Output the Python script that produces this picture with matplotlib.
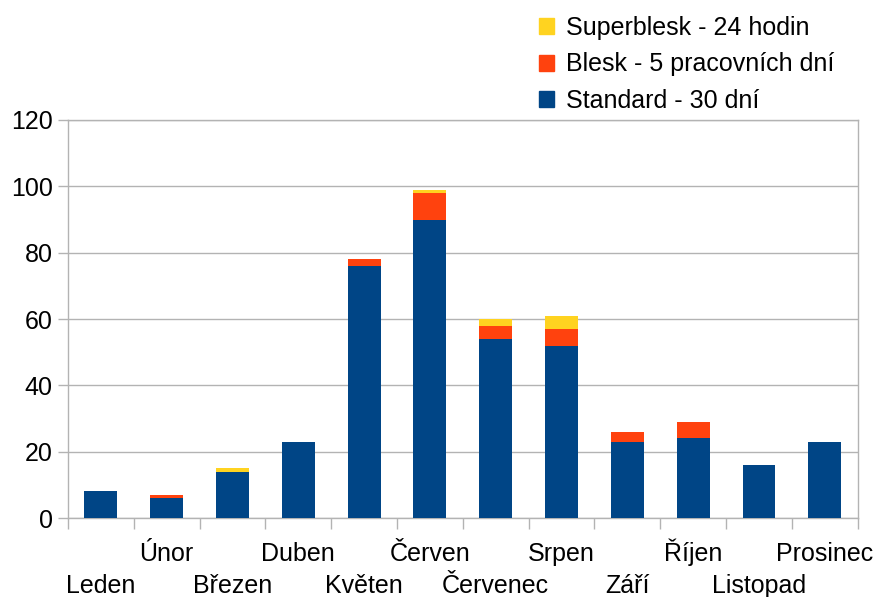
import numpy as np
import matplotlib.pyplot as plt
from matplotlib.patches import Patch

months = ["Leden", "Únor", "Březen", "Duben", "Květen", "Červen",
          "Červenec", "Srpen", "Září", "Říjen", "Listopad", "Prosinec"]
standard = [8, 6, 14, 23, 76, 90, 54, 52, 23, 24, 16, 23]
blesk = [0, 1, 0, 0, 2, 8, 4, 5, 3, 5, 0, 0]
superblesk = [0, 0, 1, 0, 0, 1, 2, 4, 0, 0, 0, 0]

labels = ["Standard - 30 dní", "Blesk - 5 pracovních dní", "Superblesk - 24 hodin"]
colors = ["#004586", "#ff420e", "#ffd320"]
grid_col = "#b3b3b3"

plt.rcParams["font.family"] = ["Liberation Sans", "DejaVu Sans"]

fig = plt.figure(figsize=(8.77, 5.97), dpi=100)
ax = fig.add_axes([0.0775, 0.1323, 0.9005, 0.6667])

x = np.arange(len(months))
std = np.array(standard)
bl = np.array(blesk)
sb = np.array(superblesk)
ax.bar(x, std, width=0.5, color=colors[0], zorder=3)
ax.bar(x, bl, width=0.5, bottom=std, color=colors[1], zorder=3)
ax.bar(x, sb, width=0.5, bottom=std + bl, color=colors[2], zorder=3)

ax.set_xlim(-0.5, len(months) - 0.5)
ax.set_ylim(0, 120)
ax.set_yticks(range(0, 121, 20))
ax.yaxis.grid(True, color=grid_col, linewidth=1, zorder=0)
ax.tick_params(axis="y", labelsize=18, color=grid_col, length=7, width=1, pad=4)

# category boundaries as ticks, labels staggered on two rows
ax.set_xticks(np.arange(-0.5, len(months), 1.0))
ax.set_xticklabels([])
ax.tick_params(axis="x", color=grid_col, length=8, width=1)
for i, m in enumerate(months):
    yoff = -0.108 if i % 2 == 1 else -0.188
    ax.text(i, yoff, m, transform=ax.get_xaxis_transform(), ha="center",
            va="baseline", fontsize=18)

for s in ax.spines.values():
    s.set_color(grid_col)
    s.set_linewidth(1)

handles = [Patch(color=c, label=l) for c, l in zip(colors, labels)][::-1]
fig.legend(handles=handles, loc="upper left", bbox_to_anchor=(0.603, 0.99),
           frameon=False, fontsize=18, handlelength=0.6, handleheight=0.6,
           handletextpad=0.5, labelspacing=0.5, borderaxespad=0)

fig.savefig("out.png", dpi=100)
